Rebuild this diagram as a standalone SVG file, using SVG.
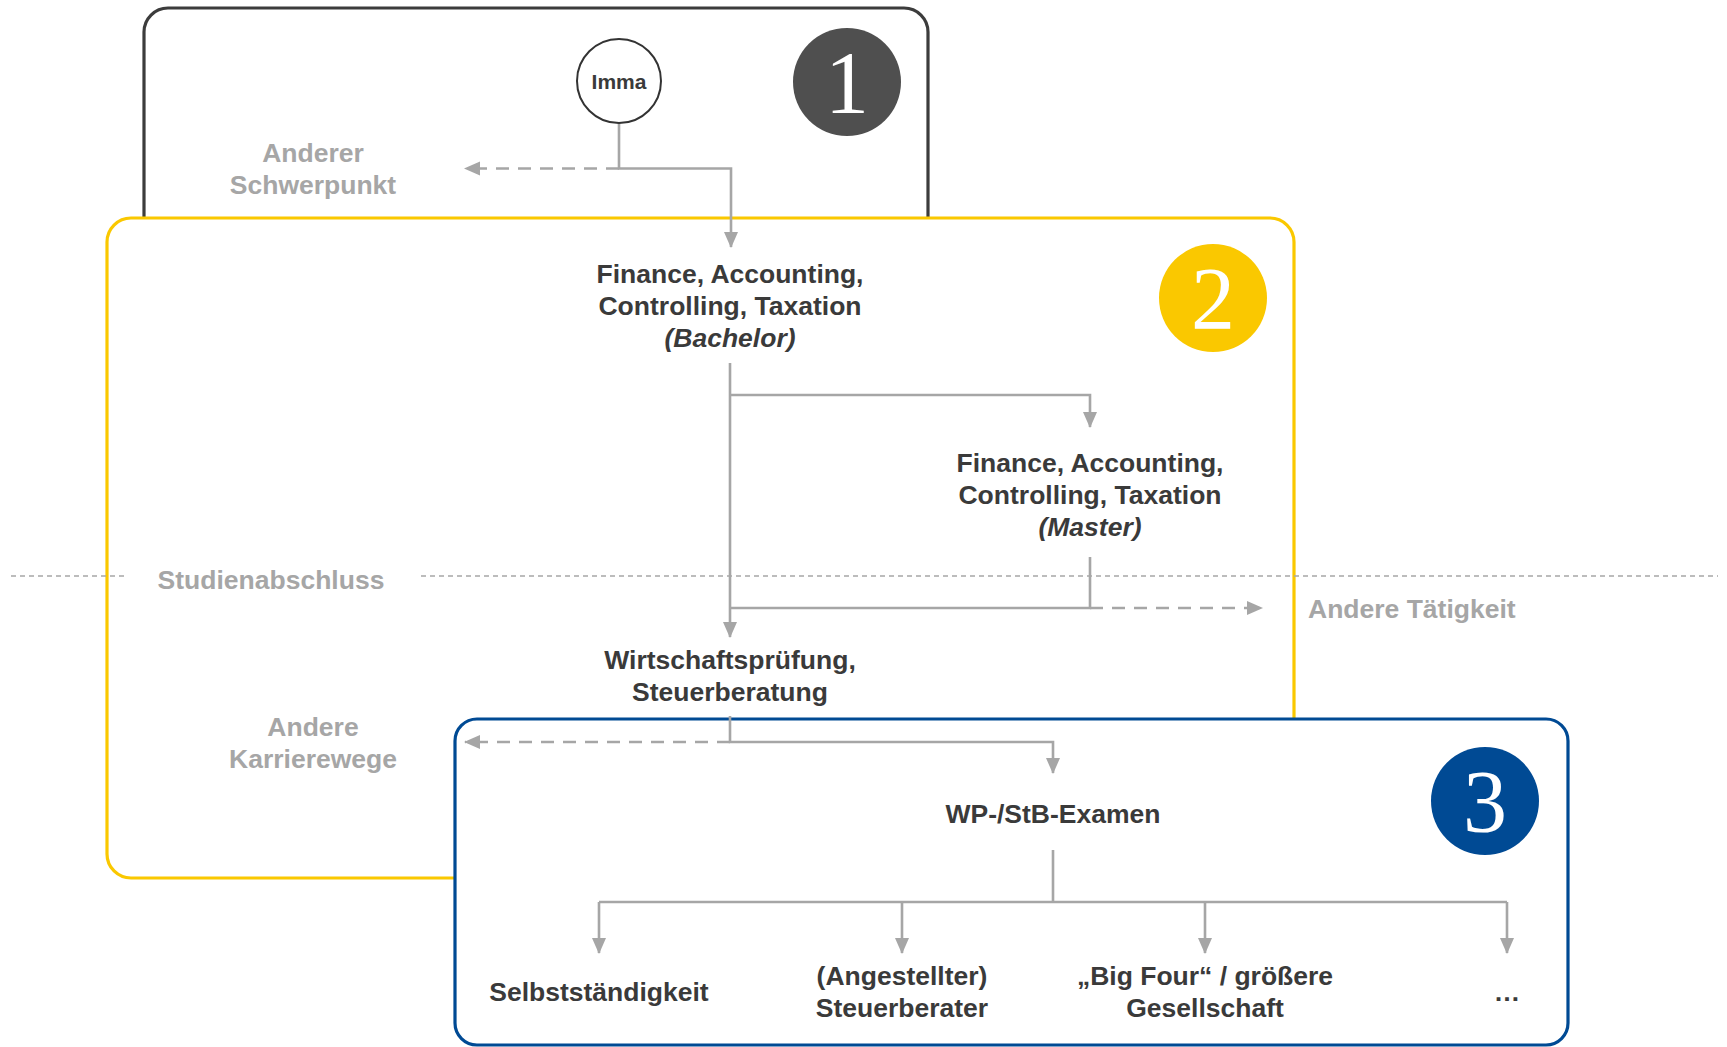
<svg xmlns="http://www.w3.org/2000/svg" width="1727" height="1047" viewBox="0 0 1727 1047">
<defs>
<marker id="ah" markerWidth="17" markerHeight="16" refX="15" refY="8" orient="auto" markerUnits="userSpaceOnUse">
<path d="M0,1 L16,8 L0,15 Z" fill="#a6a6a6"/>
</marker>
<style>
.box{fill:#ffffff;stroke-width:3.2}
.t{font-family:"Liberation Sans",Arial,sans-serif;font-weight:bold;font-size:26.5px;fill:#3a3a3a;text-anchor:middle}
.g{font-family:"Liberation Sans",Arial,sans-serif;font-weight:bold;font-size:26.5px;fill:#a6a6a6;text-anchor:middle}
.num{font-family:"Liberation Serif","Times New Roman",serif;font-size:88px;fill:#ffffff;text-anchor:middle}
.c{fill:none;stroke:#a6a6a6;stroke-width:2.6}
.d{fill:none;stroke:#a6a6a6;stroke-width:2.6;stroke-dasharray:13 9}
.sep{fill:none;stroke:#a6a6a6;stroke-width:1.6;stroke-dasharray:5 4}
</style>
</defs>
<g id="phase1">
<rect class="box" x="144" y="8" width="784" height="260" rx="24" stroke="#3c3c3c"/>
<circle cx="847" cy="82" r="54" fill="#4f4f4f"/>
<text class="num" x="847" y="112">1</text>
</g>
<g id="phase2">
<rect class="box" x="107" y="218" width="1187" height="660" rx="24" stroke="#fac800"/>
<circle cx="1213" cy="298" r="54" fill="#fac800"/>
<text class="num" x="1213" y="328">2</text>
</g>
<g id="separator">
<line class="sep" x1="11" y1="576" x2="124" y2="576"/>
<line class="sep" x1="421" y1="576" x2="1718" y2="576"/>
<text class="g" x="271" y="589">Studienabschluss</text>
</g>
<g id="phase3">
<rect class="box" x="455" y="719" width="1113" height="326" rx="22" stroke="#004a94"/>
<circle cx="1485" cy="801" r="54" fill="#004a94"/>
<text class="num" x="1485" y="831">3</text>
</g>
<g id="connectors">
<path class="c" d="M619,122 V168.5 H731 V247" marker-end="url(#ah)"/>
<path class="d" d="M619,168.5 H465" marker-end="url(#ah)"/>
<path class="c" d="M730,363 V637" marker-end="url(#ah)"/>
<path class="c" d="M730,395 H1090 V427" marker-end="url(#ah)"/>
<path class="c" d="M1090,557 V608 H730"/>
<path class="d" d="M1090,608 H1262" marker-end="url(#ah)"/>
<path class="c" d="M730,716 V742 H1053 V773" marker-end="url(#ah)"/>
<path class="d" d="M730,742 H465" marker-end="url(#ah)"/>
<path class="c" d="M1053,850 V902"/>
<path class="c" d="M599,902 H1507"/>
<path class="c" d="M599,902 V953" marker-end="url(#ah)"/>
<path class="c" d="M902,902 V953" marker-end="url(#ah)"/>
<path class="c" d="M1205,902 V953" marker-end="url(#ah)"/>
<path class="c" d="M1507,902 V953" marker-end="url(#ah)"/>
</g>
<g id="imma">
<circle cx="619" cy="81" r="42" fill="#ffffff" stroke="#333333" stroke-width="2"/>
<text class="t" x="619" y="88.5" style="font-size:21px">Imma</text>
</g>
<g id="anderer-schwerpunkt">
<text class="g" x="313" y="162">Anderer</text>
<text class="g" x="313" y="194">Schwerpunkt</text>
</g>
<g id="bachelor">
<text class="t" x="730" y="283">Finance, Accounting,</text>
<text class="t" x="730" y="315">Controlling, Taxation</text>
<text class="t" x="730" y="347" font-style="italic">(Bachelor)</text>
</g>
<g id="master">
<text class="t" x="1090" y="472">Finance, Accounting,</text>
<text class="t" x="1090" y="504">Controlling, Taxation</text>
<text class="t" x="1090" y="536" font-style="italic">(Master)</text>
</g>
<g id="andere-taetigkeit">
<text class="g" x="1308" y="618" style="text-anchor:start">Andere Tätigkeit</text>
</g>
<g id="wp-stb">
<text class="t" x="730" y="669">Wirtschaftsprüfung,</text>
<text class="t" x="730" y="701">Steuerberatung</text>
</g>
<g id="andere-karrierewege">
<text class="g" x="313" y="736">Andere</text>
<text class="g" x="313" y="768">Karrierewege</text>
</g>
<g id="examen">
<text class="t" x="1053" y="823">WP-/StB-Examen</text>
</g>
<g id="selbststaendigkeit">
<text class="t" x="599" y="1001">Selbstständigkeit</text>
</g>
<g id="steuerberater">
<text class="t" x="902" y="985">(Angestellter)</text>
<text class="t" x="902" y="1017">Steuerberater</text>
</g>
<g id="big-four">
<text class="t" x="1205" y="985">„Big Four“ / größere</text>
<text class="t" x="1205" y="1017">Gesellschaft</text>
</g>
<g id="etc">
<text class="t" x="1507" y="1001">…</text>
</g>
</svg>
